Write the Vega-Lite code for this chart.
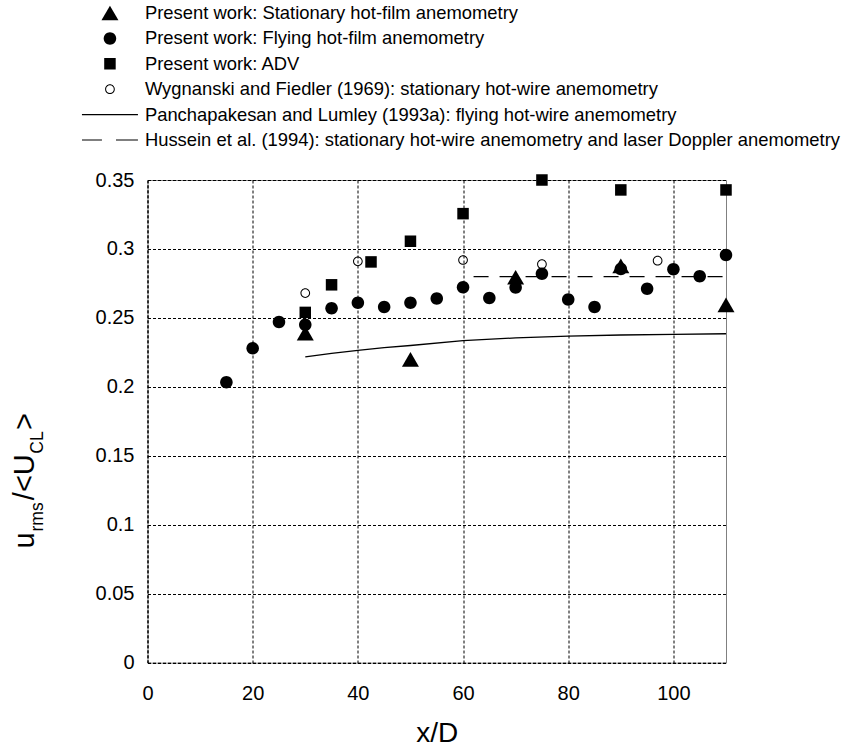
{
  "$schema": "https://vega.github.io/schema/vega-lite/v6.json",
  "width": 578.5,
  "height": 482.7,
  "autosize": {"type": "none"},
  "padding": {"left": 147.5, "top": 180, "right": 122, "bottom": 84.3},
  "background": "white",
  "config": {
    "font": "Liberation Sans",
    "view": {"stroke": "#808080", "strokeWidth": 1},
    "axis": {
      "labelFont": "Liberation Sans",
      "titleFont": "Liberation Sans",
      "labelColor": "#000",
      "titleColor": "#000",
      "titleFontWeight": "normal"
    },
    "legend": {
      "orient": "none",
      "legendX": -67.5,
      "legendY": -177,
      "padding": 0,
      "clipHeight": 20,
      "rowPadding": 5.4,
      "symbolSize": 100,
      "symbolOffset": 20.75,
      "symbolStrokeWidth": 0,
      "symbolFillColor": "black",
      "labelOffset": 25.75,
      "labelFont": "Liberation Sans",
      "labelFontSize": 18.4,
      "labelColor": "#000",
      "labelLimit": 1000
    }
  },
  "datasets": {
    "points": [
      {"series": "Wygnanski and Fiedler (1969): stationary hot-wire anemometry", "xD": 30, "u": 0.268},
      {"series": "Wygnanski and Fiedler (1969): stationary hot-wire anemometry", "xD": 40, "u": 0.291},
      {"series": "Wygnanski and Fiedler (1969): stationary hot-wire anemometry", "xD": 60, "u": 0.292},
      {"series": "Wygnanski and Fiedler (1969): stationary hot-wire anemometry", "xD": 75, "u": 0.289},
      {"series": "Wygnanski and Fiedler (1969): stationary hot-wire anemometry", "xD": 97, "u": 0.2915},
      {"series": "Present work: ADV", "xD": 30, "u": 0.254},
      {"series": "Present work: ADV", "xD": 35, "u": 0.274},
      {"series": "Present work: ADV", "xD": 42.5, "u": 0.2906},
      {"series": "Present work: ADV", "xD": 50, "u": 0.3056},
      {"series": "Present work: ADV", "xD": 60, "u": 0.3256},
      {"series": "Present work: ADV", "xD": 75, "u": 0.35},
      {"series": "Present work: ADV", "xD": 90, "u": 0.3428},
      {"series": "Present work: ADV", "xD": 110, "u": 0.3428},
      {"series": "Present work: Stationary hot-film anemometry", "xD": 30, "u": 0.239},
      {"series": "Present work: Stationary hot-film anemometry", "xD": 50, "u": 0.22},
      {"series": "Present work: Stationary hot-film anemometry", "xD": 70, "u": 0.2795},
      {"series": "Present work: Stationary hot-film anemometry", "xD": 90, "u": 0.2877},
      {"series": "Present work: Stationary hot-film anemometry", "xD": 110, "u": 0.2594},
      {"series": "Present work: Flying hot-film anemometry", "xD": 15, "u": 0.2033},
      {"series": "Present work: Flying hot-film anemometry", "xD": 20, "u": 0.228},
      {"series": "Present work: Flying hot-film anemometry", "xD": 25, "u": 0.247},
      {"series": "Present work: Flying hot-film anemometry", "xD": 30, "u": 0.245},
      {"series": "Present work: Flying hot-film anemometry", "xD": 35, "u": 0.257},
      {"series": "Present work: Flying hot-film anemometry", "xD": 40, "u": 0.261},
      {"series": "Present work: Flying hot-film anemometry", "xD": 45, "u": 0.258},
      {"series": "Present work: Flying hot-film anemometry", "xD": 50, "u": 0.261},
      {"series": "Present work: Flying hot-film anemometry", "xD": 55, "u": 0.264},
      {"series": "Present work: Flying hot-film anemometry", "xD": 60, "u": 0.2722},
      {"series": "Present work: Flying hot-film anemometry", "xD": 65, "u": 0.2645},
      {"series": "Present work: Flying hot-film anemometry", "xD": 70, "u": 0.272},
      {"series": "Present work: Flying hot-film anemometry", "xD": 75, "u": 0.282},
      {"series": "Present work: Flying hot-film anemometry", "xD": 80, "u": 0.2633},
      {"series": "Present work: Flying hot-film anemometry", "xD": 85, "u": 0.258},
      {"series": "Present work: Flying hot-film anemometry", "xD": 90, "u": 0.2855},
      {"series": "Present work: Flying hot-film anemometry", "xD": 95, "u": 0.2712},
      {"series": "Present work: Flying hot-film anemometry", "xD": 100, "u": 0.2853},
      {"series": "Present work: Flying hot-film anemometry", "xD": 105, "u": 0.2802},
      {"series": "Present work: Flying hot-film anemometry", "xD": 110, "u": 0.2957}
    ],
    "curves": [
      {"series": "Panchapakesan and Lumley (1993a): flying hot-wire anemometry", "xD": 30, "u": 0.2217},
      {"series": "Panchapakesan and Lumley (1993a): flying hot-wire anemometry", "xD": 35, "u": 0.2243},
      {"series": "Panchapakesan and Lumley (1993a): flying hot-wire anemometry", "xD": 40, "u": 0.2265},
      {"series": "Panchapakesan and Lumley (1993a): flying hot-wire anemometry", "xD": 45, "u": 0.2285},
      {"series": "Panchapakesan and Lumley (1993a): flying hot-wire anemometry", "xD": 50, "u": 0.23},
      {"series": "Panchapakesan and Lumley (1993a): flying hot-wire anemometry", "xD": 60, "u": 0.2335},
      {"series": "Panchapakesan and Lumley (1993a): flying hot-wire anemometry", "xD": 70, "u": 0.2355},
      {"series": "Panchapakesan and Lumley (1993a): flying hot-wire anemometry", "xD": 80, "u": 0.2368},
      {"series": "Panchapakesan and Lumley (1993a): flying hot-wire anemometry", "xD": 90, "u": 0.2376},
      {"series": "Panchapakesan and Lumley (1993a): flying hot-wire anemometry", "xD": 100, "u": 0.2381},
      {"series": "Panchapakesan and Lumley (1993a): flying hot-wire anemometry", "xD": 110, "u": 0.2385},
      {"series": "Hussein et al. (1994): stationary hot-wire anemometry and laser Doppler anemometry", "xD": 62, "u": 0.28},
      {"series": "Hussein et al. (1994): stationary hot-wire anemometry and laser Doppler anemometry", "xD": 110, "u": 0.28}
    ]
  },
  "encoding": {
    "x": {
      "field": "xD",
      "type": "quantitative",
      "scale": {"domain": [0, 110], "nice": false, "zero": false},
      "axis": {
        "title": "x/D",
        "titleFontSize": 28,
        "titlePadding": 16,
        "values": [0, 20, 40, 60, 80, 100],
        "labelFontSize": 20,
        "labelPadding": 21,
        "ticks": false,
        "tickSize": 0,
        "labelFlush": false,
        "grid": true,
        "gridColor": "#000",
        "gridDash": [3, 2],
        "gridWidth": 1,
        "gridOpacity": 1,
        "domainColor": "#000",
        "domainDash": [3, 2]
      }
    }
  },
  "layer": [
    {
      "data": {"name": "points"},
      "mark": {"type": "point", "filled": true, "color": "black", "size": 100, "strokeWidth": 0, "opacity": 1},
      "encoding": {
        "y": {
          "field": "u",
          "type": "quantitative",
          "scale": {"domain": [0, 0.35], "nice": false, "zero": false},
          "axis": {
            "orient": "left",
            "title": "u\u00a0\u00a0\u00a0\u00a0/<U\u00a0\u00a0\u00a0>",
            "titleFontSize": 29,
            "titleAngle": -90,
            "titleAlign": "left",
            "titleBaseline": "alphabetic",
            "titleX": -114.5,
            "titleY": 368,
            "values": [0, 0.05, 0.1, 0.15, 0.2, 0.25, 0.3, 0.35],
            "format": "~g",
            "labelFontSize": 20,
            "labelPadding": 13.5,
            "ticks": false,
            "tickSize": 0,
            "labelFlush": false,
            "grid": true,
            "gridColor": "#000",
            "gridDash": [3, 2],
            "gridWidth": 1,
            "gridOpacity": 1,
            "domainColor": "#000",
            "domainDash": [3, 2]
          }
        },
        "shape": {
          "field": "series",
          "type": "nominal",
          "scale": {
            "domain": [
              "Present work: Stationary hot-film anemometry",
              "Present work: Flying hot-film anemometry",
              "Present work: ADV",
              "Wygnanski and Fiedler (1969): stationary hot-wire anemometry",
              "Panchapakesan and Lumley (1993a): flying hot-wire anemometry",
              "Hussein et al. (1994): stationary hot-wire anemometry and laser Doppler anemometry"
            ],
            "range": [
              "M0,-1.47L1.7,1.47L-1.7,1.47Z",
              "M1.25,0A1.25,1.25,0,1,1,-1.25,0A1.25,1.25,0,1,1,1.25,0Z",
              "M-1.15,-1.15H1.15V1.15H-1.15Z",
              "M0.97,0A0.97,0.97,0,1,1,-0.97,0A0.97,0.97,0,1,1,0.97,0Z M0.77,0A0.77,0.77,0,1,0,-0.77,0A0.77,0.77,0,1,0,0.77,0Z",
              "M-5.6,-0.12H5.6V0.12H-5.6Z",
              "M-5.6,-0.12H-1.6V0.12H-5.6Z M1.2,-0.12H5.6V0.12H1.2Z"
            ]
          },
          "legend": {"title": null}
        }
      }
    },
    {
      "data": {"name": "curves"},
      "transform": [{"filter": "datum.series == 'Panchapakesan and Lumley (1993a): flying hot-wire anemometry'"}],
      "mark": {"type": "line", "color": "black", "strokeWidth": 1.3},
      "encoding": {
        "y": {
          "field": "u",
          "type": "quantitative",
          "scale": {"domain": [0, 0.35], "nice": false, "zero": false},
          "axis": {
            "orient": "left",
            "title": "rms\u00a0\u00a0\u00a0\u00a0\u00a0\u00a0\u00a0\u00a0\u00a0\u00a0CL",
            "titleFontSize": 17.5,
            "titleAngle": -90,
            "titleAlign": "left",
            "titleBaseline": "alphabetic",
            "titleX": -105,
            "titleY": 351,
            "labels": false,
            "ticks": false,
            "domain": false,
            "grid": false
          }
        }
      }
    },
    {
      "data": {"name": "curves"},
      "transform": [{"filter": "datum.series == 'Hussein et al. (1994): stationary hot-wire anemometry and laser Doppler anemometry'"}],
      "mark": {"type": "line", "color": "black", "strokeWidth": 1.2, "strokeDash": [15, 11]},
      "encoding": {
        "y": {
          "field": "u",
          "type": "quantitative",
          "scale": {"domain": [0, 0.35], "nice": false, "zero": false},
          "axis": null
        }
      }
    }
  ],
  "resolve": {"axis": {"y": "independent"}}
}
